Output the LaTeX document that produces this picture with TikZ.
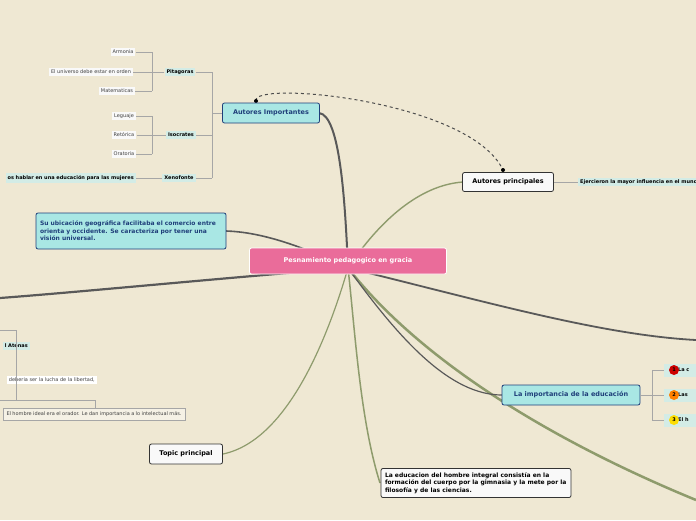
\documentclass[tikz,border=0pt]{standalone}
\usepackage{fontspec}
\setmainfont{DejaVu Sans}
\hyphenpenalty=10000\relax
\definecolor{bg}{HTML}{EFE8D3}
\definecolor{ol}{HTML}{8E9B6C}
\definecolor{cy}{HTML}{A9E7E4}
\definecolor{lc}{HTML}{D3ECE6}
\definecolor{pk}{HTML}{EA6C9A}
\definecolor{db}{HTML}{1F3F7A}
\begin{document}
\begin{tikzpicture}[x=1pt,y=-1pt,font=\fontsize{5.5}{6.5}\selectfont,
 topic/.style={draw=black!80,rounded corners=2pt,line width=0.8pt,font=\fontsize{6.5}{8}\selectfont\bfseries,inner sep=4pt},
 main/.style={topic,fill=cy,draw=db,text=db},
 sub/.style={fill=lc,font=\fontsize{5}{6}\selectfont\bfseries,inner sep=2pt},
 leaf/.style={fill=white!95!gray,font=\fontsize{5}{6}\selectfont,text=black!75,inner sep=2pt},
 br/.style={draw=black!35,line width=0.7pt},
 thick1/.style={draw=black!65,line width=2.2pt},
 olive/.style={draw=ol,line width=2pt}]
\fill[bg] (0,0) rectangle (696,520);
\useasboundingbox (0,0) rectangle (696,520);
\coordinate (L1) at (0,298); \coordinate (R1) at (696,340); \coordinate (R2) at (696,500);
\coordinate (c) at (348,268);
% curves
\draw[thick1] (c) .. controls (200,280) and (80,292) .. (L1);
\draw[thick1,line width=1.6pt] (c) .. controls (300,245) and (260,232) .. (226,231);
\draw[thick1,line width=1.8pt] (c) .. controls (480,300) and (600,335) .. (R1);
\draw[olive,line width=2.5pt] (c) .. controls (420,360) and (550,440) .. (R2);
\draw[olive,line width=1.2pt] (c) .. controls (330,330) and (290,440) .. (223,454);
\draw[olive,line width=1.5pt] (c) .. controls (355,330) and (360,420) .. (380,483);
\draw[olive,line width=1.4pt] (c) .. controls (380,220) and (420,185) .. (463,182);
\draw[thick1,line width=2pt] (c) .. controls (345,200) and (340,115) .. (319,113);
\draw[thick1,line width=1.2pt] (c) .. controls (400,340) and (450,395) .. (502,395);
\draw[black!70,line width=1pt,dashed] (256,101) .. controls (250,80) and (470,100) .. (503,170);
\fill (256,101) circle (2pt); \fill (503,170) circle (2pt);
% nodes
\node[topic,fill=pk,draw=white,text=white,minimum width=197pt,minimum height=26pt] (center) at (348,261) {Pesnamiento pedagogico en gracia};
\node[main,minimum width=97pt,minimum height=20pt] (ai) at (271,113) {Autores Importantes};
\node[topic,fill=white!95!gray,minimum width=91pt,minimum height=19pt] (ap) at (508,182) {Autores principales};
\node[main,align=flush left,text width=182pt,minimum height=36pt,font=\fontsize{6}{7.5}\selectfont\bfseries] (su) at (131,231) {Su ubicación geográfica facilitaba el comercio entre orienta y occidente. Se caracteriza por tener una visión universal.};
\node[main,minimum width=138pt,minimum height=20pt] (li) at (571,395) {La importancia de la educación};
\node[topic,fill=white!95!gray,minimum width=73pt,minimum height=20pt] (tp) at (186,454) {Topic principal};
\node[topic,fill=white!95!gray,align=flush left,text width=182pt,font=\fontsize{6}{7.5}\selectfont\bfseries] (le) at (476,483) {La educacion del hombre integral consistía en la formación del cuerpo por la gimnasia y la mete por la filosofía y de las ciencias.};
\node[sub,anchor=west] (ej) at (578,182) {Ejercieron la mayor influencia en el mundo};
\draw[br] (ap) -- (ej);
% left tree
\node[sub] (pi) at (180,72) {Pitagoras};
\node[sub] (is) at (181,135) {Isocrates};
\node[sub] (xe) at (179,178) {Xenofonte};
\node[leaf] (a1) at (123,52) {Armonia};
\node[leaf] (a2) at (91,72) {El universo debe estar en orden};
\node[leaf] (a3) at (117,91) {Matematicas};
\node[leaf] (b1) at (124,116) {Leguaje};
\node[leaf] (b2) at (124,135) {Retórica};
\node[leaf] (b3) at (124,154) {Oratoria};
\node[sub,anchor=east] (x1) at (136,178) {os hablar en una educación para las mujeres};
\draw[br] (ai.west) -- (212,113) (212,72) -- (212,178) (pi) -- (212,72) (is) -- (212,135) (xe) -- (212,178);
\draw[br] (pi) -- (152,72) (152,52) -- (152,91) (a1) -- (152,52) (a2) -- (152,72) (a3) -- (152,91);
\draw[br] (is) -- (152,135) (152,116) -- (152,154) (b1) -- (152,116) (b2) -- (152,135) (b3) -- (152,154);
\draw[br] (xe) -- (x1);
% numbered
\foreach \n/\y/\t/\c in {1/370/La c/red!80!black,2/395/Las/orange,3/420/El h/yellow!80!orange}{
 \node[sub,anchor=west,minimum height=13pt,text width=40pt,align=left] (n\n) at (664,\y) {\hspace{12pt}\t};
 \fill[\c] (674,\y) circle (5pt); \node[font=\fontsize{5}{6}\selectfont\bfseries] at (674,\y) {\n};
 \draw[br] (li.east) -- (652,395) (652,\y) -- (n\n.west);}
\draw[br] (652,370) -- (652,420);
% bottom-left
\node[sub,anchor=east] (at) at (30,346) {l Atenas};
\node[leaf,fill=white,anchor=east] (de) at (97,380) {deberia ser la lucha de la libertad,};
\node[draw=black!35,fill=bg!60!white,anchor=north west,align=flush left,text width=175pt,font=\fontsize{5}{6.5}\selectfont,text=black!75] (eh) at (3,408) {El hombre ideal era el orador. Le dan importancia a lo intelectual más.};
\draw[br] (0,330) -- (16,330) -- (16,400) (0,400) -- (95,400) -- (95,408);
\end{tikzpicture}
\end{document}
